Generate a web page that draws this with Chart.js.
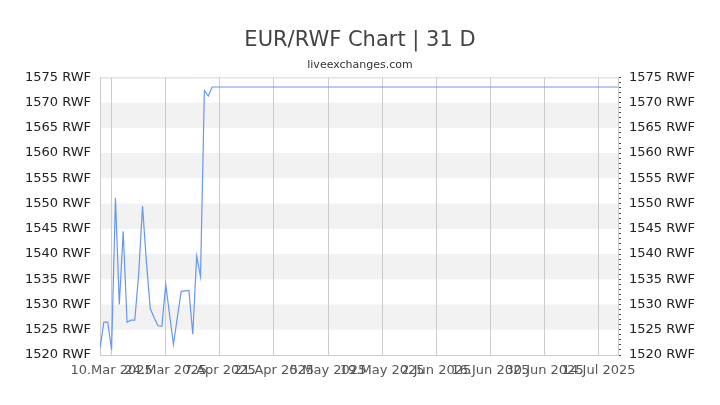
<!DOCTYPE html>
<html>
<head>
<meta charset="utf-8">
<script src="https://cdn.jsdelivr.net/npm/chart.js@4.4.1/dist/chart.umd.min.js"></script>
<style>
  html, body { margin: 0; padding: 0; background: #fff; }
  #wrap { width: 720px; height: 405px; }
</style>
</head>
<body>
<div id="wrap"><canvas id="rateChart"></canvas></div>
<script>
// days counted from 10.Mar 2025
var days = [-3, -2, -1, 0, 1, 2, 3, 4, 5, 6, 7, 8, 9, 10, 11, 12, 13, 14, 15, 16,
            17, 18, 19, 20, 21, 22, 23, 24, 25, 26, 131];
var rates = [1521.4, 1526.5, 1526.5, 1521.0, 1551.1, 1530.0, 1544.5, 1526.5, 1526.9, 1526.9,
             1536.0, 1549.5, 1538.5, 1529.2, 1527.4, 1525.8, 1525.7, 1534.0, 1528.0, 1522.1,
             1527.4, 1532.6, 1532.7, 1532.8, 1524.1, 1539.6, 1535.6, 1572.4, 1571.3, 1573.1,
             1573.1];
var tickDays = [0, 14, 28, 42, 56, 70, 84, 98, 112, 126];
var tickLabels = ['10.Mar 2025', '24.Mar 2025', '7.Apr 2025', '21.Apr 2025', '5.May 2025',
                  '19.May 2025', '2.Jun 2025', '16.Jun 2025', '30.Jun 2025', '14.Jul 2025'];
var yMin = 1520, yMax = 1575;

var bandsPlugin = {
    id: 'bands',
    beforeDraw: function(chart) {
        var ctx = chart.ctx, area = chart.chartArea, y = chart.scales.y;
        ctx.save();
        ctx.fillStyle = '#f2f2f2';
        y.ticks.forEach(function(t, i) {
            if (i % 2 === 1 && i < y.ticks.length - 1) {
                var top = y.getPixelForValue(y.ticks[i + 1].value);
                var bottom = y.getPixelForValue(t.value);
                ctx.fillRect(area.left, top, area.right - area.left, bottom - top);
            }
        });
        ctx.restore();
    },
    beforeDatasetsDraw: function(chart) {
        var ctx = chart.ctx, area = chart.chartArea;
        ctx.save();
        ctx.strokeStyle = '#d4d4d4';
        ctx.lineWidth = 1;
        ctx.beginPath();
        ctx.moveTo(area.left, area.top + 0.5);
        ctx.lineTo(area.right, area.top + 0.5);
        ctx.stroke();
        ctx.restore();
    }
};

var labelFont = { family: 'DejaVu Sans', size: 13 };

new Chart(document.getElementById('rateChart'), {
    type: 'line',
    data: {
        datasets: [{
            data: days.map(function(d, i) { return { x: d, y: rates[i] }; }),
            borderColor: '#6897ec',
            borderWidth: 1.2,
            pointRadius: 0,
            tension: 0,
            fill: false
        }]
    },
    options: {
        responsive: true,
        maintainAspectRatio: false,
        animation: false,
        layout: { padding: 0 },
        plugins: {
            legend: { display: false },
            tooltip: { enabled: false },
            title: {
                display: true,
                text: 'EUR/RWF Chart | 31 D',
                color: '#444',
                font: { family: 'DejaVu Sans', size: 21, weight: 'normal' },
                padding: { top: 28, bottom: 0 }
            },
            subtitle: {
                display: true,
                text: 'liveexchanges.com',
                color: '#333',
                font: { family: 'DejaVu Sans', size: 11 },
                padding: { top: 5, bottom: 6 }
            }
        },
        scales: {
            x: {
                type: 'linear',
                min: -3,
                max: 131,
                afterBuildTicks: function(scale) {
                    scale.ticks = tickDays.map(function(d) { return { value: d }; });
                },
                afterFit: function(scale) { scale.height = 50; },
                ticks: {
                    autoSkip: false,
                    maxRotation: 0,
                    color: '#555',
                    font: labelFont,
                    padding: 8,
                    callback: function(value, index) { return tickLabels[index]; }
                },
                grid: { color: '#cccccc', drawTicks: false },
                border: { color: '#cccccc' }
            },
            y: {
                position: 'left',
                min: yMin,
                max: yMax,
                afterFit: function(scale) { scale.width = 100; },
                ticks: {
                    stepSize: 5,
                    color: '#222',
                    font: labelFont,
                    padding: 9,
                    callback: function(v) { return v + ' RWF'; }
                },
                grid: { display: true, drawOnChartArea: false, drawTicks: false },
                border: { color: '#cccccc' }
            },
            y2: {
                position: 'right',
                min: yMin,
                max: yMax,
                afterFit: function(scale) { scale.width = 102; },
                ticks: {
                    stepSize: 1,
                    autoSkip: false,
                    color: '#222',
                    font: labelFont,
                    padding: 8,
                    callback: function(v) { return v % 5 === 0 ? v + ' RWF' : ''; }
                },
                grid: { drawOnChartArea: false, tickLength: 3, color: '#444' },
                border: { color: '#cccccc' }
            }
        }
    },
    plugins: [bandsPlugin]
});
</script>
</body>
</html>
